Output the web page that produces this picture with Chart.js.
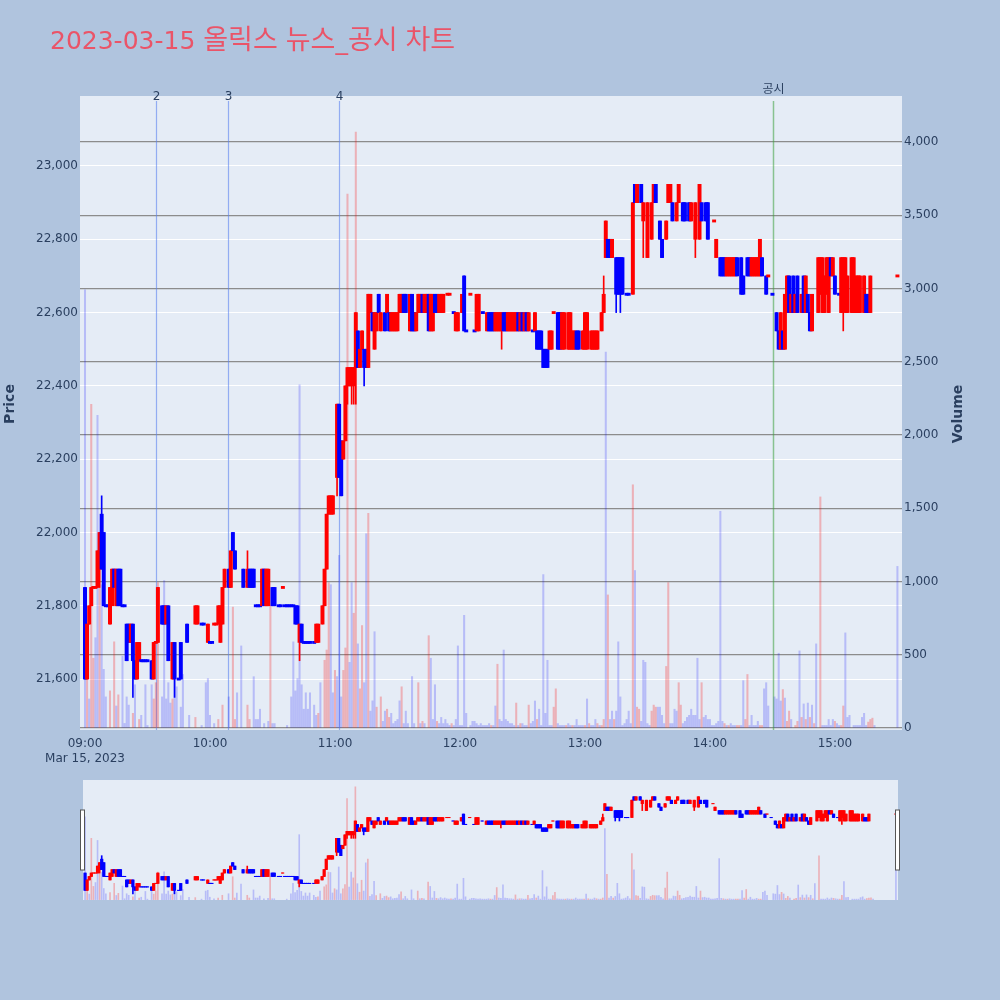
<!DOCTYPE html>
<html>
<head>
<meta charset="utf-8">
<script src="https://cdn.jsdelivr.net/npm/chart.js@4.4.0/dist/chart.umd.min.js"></script>
<style>
  html, body { margin: 0; padding: 0; background: #b0c4de; }
  #wrap { position: relative; width: 1000px; height: 1000px; }
  #main { position: absolute; left: 0; top: 0; }
  #slider { position: absolute; left: 0; top: 775px; }
</style>
</head>
<body>
<div id="wrap">
  <canvas id="main" width="1000" height="770"></canvas>
  <canvas id="slider" width="1000" height="130"></canvas>
</div>
<script>
// minutes after 09:00 (2023-03-15), one candle per traded minute
const times = [
  0,1,2,3,4,5,6,7,8,9,
  10,11,12,13,14,15,16,17,18,19,
  20,21,22,23,24,25,26,27,28,29,
  30,32,33,34,35,37,38,39,40,42,
  43,45,46,49,53,54,56,57,59,60,
  61,62,63,64,65,66,67,69,70,71,
  72,76,78,79,80,81,82,83,84,85,
  86,87,88,90,91,93,94,95,96,97,
  98,99,100,101,102,103,104,105,106,107,
  108,110,111,112,114,115,116,117,118,119,
  121,122,123,124,125,126,127,128,129,130,
  131,132,133,134,135,136,137,138,139,140,
  141,142,144,145,146,147,148,149,150,151,
  152,153,154,156,157,158,159,160,161,162,
  163,164,165,166,167,168,169,170,171,172,
  174,175,177,178,179,181,182,183,185,187,
  188,189,191,193,194,195,196,197,198,199,
  200,201,202,203,204,205,206,207,208,209,
  210,211,212,213,215,216,217,218,219,220,
  221,222,223,224,225,227,228,229,230,232,
  233,234,235,236,237,239,240,241,243,244,
  245,246,248,249,250,251,252,253,255,256,
  257,258,260,261,263,264,265,267,268,270,
  272,273,274,276,277,279,280,281,282,284,
  285,287,288,290,291,293,295,296,298,299,
  302,303,305,306,307,308,309,310,311,312,
  313,315,316,318,319,320,321,322,323,324,
  325,327,328,330,332,333,334,335,336,337,
  338,339,340,341,342,344,345,346,347,348,
  349,352,353,354,355,356,357,358,359,360,
  362,363,364,365,366,368,369,370,371,372,
  374,375,376,377,390
];
const opens = [
  21850,21600,21750,21800,21850,21850,21850,21900,22050,22000,
  21800,21800,21750,21800,21900,21800,21900,21900,21800,21800,
  21750,21750,21700,21750,21650,21600,21650,21650,21650,21650,
  21650,21650,21600,21700,21700,21800,21800,21750,21800,21600,
  21700,21600,21700,21750,21750,21750,21750,21750,21700,21700,
  21700,21750,21750,21750,21700,21750,21850,21900,21850,22000,
  21950,21900,21850,21900,21900,21900,21800,21800,21800,21800,
  21900,21800,21800,21850,21850,21800,21800,21850,21800,21800,
  21800,21800,21800,21800,21800,21700,21750,21700,21700,21700,
  21700,21700,21700,21700,21750,21800,21900,22050,22050,22050,
  22150,22350,22250,22200,22250,22400,22400,22400,22400,22450,
  22550,22450,22500,22500,22500,22450,22600,22600,22500,22550,
  22650,22550,22600,22600,22600,22550,22550,22550,22550,22600,
  22600,22650,22650,22550,22650,22600,22550,22600,22600,22650,
  22600,22600,22650,22550,22550,22650,22650,22600,22600,22600,
  22650,22650,22600,22550,22550,22600,22700,22550,22650,22550,
  22550,22550,22600,22550,22600,22600,22600,22550,22550,22550,
  22550,22600,22600,22550,22550,22550,22550,22550,22600,22550,
  22600,22550,22600,22550,22550,22550,22550,22550,22550,22500,
  22500,22500,22500,22500,22600,22600,22600,22500,22500,22500,
  22500,22500,22500,22550,22550,22500,22500,22500,22500,22500,
  22500,22500,22550,22600,22750,22800,22800,22750,22750,22750,
  22750,22750,22650,22650,22650,22950,22900,22950,22850,22750,
  22800,22900,22950,22850,22800,22800,22900,22900,22900,22850,
  22900,22900,22900,22900,22850,22800,22800,22900,22900,22900,
  22850,22750,22750,22750,22750,22700,22700,22700,22700,22700,
  22750,22750,22700,22750,22750,22700,22700,22700,22700,22700,
  22750,22700,22700,22650,22600,22550,22500,22550,22500,22600,
  22700,22600,22700,22600,22700,22600,22700,22600,22650,22600,
  22550,22600,22650,22600,22600,22650,22600,22750,22700,22700,
  22650,22600,22650,22600,22600,22600,22600,22600,22600,22600,
  22600,22650,22650,22600,22700
];
const highs = [
  21850,21750,21800,21850,21850,21850,21950,22000,22100,22000,
  21800,21800,21850,21900,21900,21900,21900,21900,21800,21800,
  21750,21750,21750,21750,21650,21700,21700,21650,21650,21650,
  21650,21650,21700,21700,21850,21800,21800,21800,21800,21700,
  21700,21600,21700,21750,21800,21800,21750,21750,21750,21700,
  21700,21750,21750,21800,21800,21850,21900,21900,21950,22000,
  21950,21900,21950,21900,21900,21900,21800,21800,21800,21900,
  21900,21900,21900,21850,21850,21800,21800,21850,21800,21800,
  21800,21800,21800,21800,21800,21750,21750,21700,21700,21700,
  21700,21700,21750,21750,21800,21900,22050,22100,22100,22100,
  22350,22350,22250,22250,22400,22450,22450,22450,22450,22600,
  22550,22500,22550,22500,22500,22650,22650,22600,22600,22600,
  22650,22600,22600,22650,22600,22600,22600,22600,22600,22650,
  22650,22650,22650,22650,22650,22600,22600,22650,22650,22650,
  22650,22650,22650,22650,22650,22650,22650,22650,22650,22650,
  22650,22650,22600,22600,22600,22650,22700,22550,22650,22550,
  22650,22650,22600,22600,22600,22600,22600,22600,22600,22600,
  22600,22600,22600,22600,22600,22600,22600,22600,22600,22600,
  22600,22600,22600,22600,22550,22600,22550,22550,22550,22500,
  22500,22500,22550,22550,22600,22600,22600,22600,22600,22600,
  22600,22550,22550,22550,22550,22550,22600,22600,22550,22550,
  22550,22550,22600,22700,22850,22800,22800,22800,22750,22750,
  22750,22750,22650,22650,22900,22950,22950,22950,22900,22900,
  22900,22950,22950,22850,22800,22850,22950,22950,22900,22900,
  22950,22900,22900,22900,22900,22900,22950,22900,22900,22900,
  22850,22800,22750,22750,22750,22750,22750,22750,22750,22750,
  22750,22750,22700,22750,22750,22750,22750,22750,22750,22800,
  22750,22700,22700,22650,22600,22550,22600,22550,22650,22700,
  22700,22650,22700,22650,22700,22650,22700,22700,22650,22600,
  22650,22750,22750,22750,22700,22750,22750,22750,22750,22700,
  22650,22750,22750,22750,22700,22750,22750,22700,22700,22700,
  22700,22650,22650,22700,22700
];
const lows = [
  21600,21600,21750,21800,21850,21850,21850,21850,21900,21800,
  21800,21800,21750,21800,21850,21800,21800,21800,21800,21800,
  21650,21700,21700,21550,21600,21600,21650,21650,21650,21650,
  21650,21600,21600,21700,21700,21750,21750,21750,21650,21600,
  21550,21600,21600,21700,21750,21750,21750,21750,21700,21700,
  21700,21750,21750,21750,21700,21750,21850,21850,21850,21950,
  21900,21850,21850,21850,21850,21850,21800,21800,21800,21800,
  21800,21800,21800,21800,21800,21800,21800,21850,21800,21800,
  21800,21800,21800,21750,21750,21650,21700,21700,21700,21700,
  21700,21700,21700,21700,21750,21800,21900,22050,22050,22050,
  22100,22150,22100,22200,22250,22350,22400,22350,22350,22350,
  22450,22450,22500,22400,22450,22450,22600,22550,22500,22550,
  22600,22550,22550,22600,22550,22550,22550,22550,22550,22600,
  22600,22600,22600,22550,22550,22550,22550,22600,22600,22600,
  22600,22600,22550,22550,22550,22600,22600,22600,22600,22600,
  22650,22650,22600,22550,22550,22600,22550,22550,22650,22550,
  22550,22550,22600,22550,22550,22550,22550,22550,22550,22550,
  22500,22550,22550,22550,22550,22550,22550,22550,22550,22550,
  22550,22550,22550,22550,22550,22550,22500,22500,22500,22450,
  22450,22450,22500,22500,22600,22500,22500,22500,22500,22500,
  22500,22500,22500,22500,22500,22500,22500,22500,22500,22500,
  22500,22500,22550,22600,22750,22750,22750,22750,22600,22650,
  22600,22650,22650,22650,22650,22900,22900,22900,22750,22750,
  22800,22900,22900,22800,22750,22800,22900,22900,22850,22850,
  22900,22850,22850,22850,22850,22750,22800,22850,22850,22800,
  22850,22750,22700,22700,22700,22700,22700,22700,22700,22700,
  22700,22650,22650,22700,22700,22700,22700,22700,22700,22700,
  22700,22650,22700,22650,22550,22500,22500,22500,22500,22600,
  22600,22600,22600,22600,22600,22600,22600,22600,22600,22550,
  22550,22600,22650,22600,22600,22650,22600,22700,22700,22650,
  22650,22600,22550,22600,22600,22600,22600,22600,22600,22600,
  22600,22600,22600,22600,22700
];
const closes = [
  21600,21750,21800,21850,21850,21850,21950,22000,21900,21800,
  21800,21800,21850,21900,21850,21900,21800,21800,21800,21800,
  21650,21700,21750,21650,21600,21700,21700,21650,21650,21650,
  21650,21600,21700,21700,21850,21750,21750,21800,21650,21700,
  21600,21600,21600,21700,21800,21800,21750,21750,21750,21700,
  21700,21750,21750,21800,21800,21850,21900,21850,21950,21950,
  21900,21850,21900,21850,21850,21850,21800,21800,21800,21900,
  21800,21900,21900,21800,21800,21800,21800,21850,21800,21800,
  21800,21800,21800,21750,21750,21750,21700,21700,21700,21700,
  21700,21700,21750,21750,21800,21900,22050,22100,22100,22100,
  22350,22150,22100,22250,22400,22450,22450,22450,22450,22600,
  22450,22500,22550,22450,22450,22650,22650,22550,22600,22600,
  22600,22600,22550,22650,22550,22600,22600,22600,22600,22650,
  22650,22600,22600,22650,22550,22550,22600,22650,22650,22600,
  22650,22650,22550,22650,22650,22600,22600,22650,22650,22650,
  22650,22650,22600,22600,22600,22650,22550,22550,22650,22550,
  22650,22650,22600,22600,22550,22550,22550,22600,22600,22600,
  22600,22550,22550,22600,22600,22600,22600,22600,22550,22600,
  22550,22600,22550,22600,22550,22600,22500,22500,22500,22450,
  22450,22450,22550,22550,22600,22500,22500,22600,22600,22600,
  22600,22550,22550,22500,22500,22550,22600,22600,22550,22550,
  22550,22550,22600,22650,22850,22750,22750,22800,22650,22650,
  22650,22650,22650,22650,22900,22900,22950,22900,22900,22900,
  22900,22950,22900,22800,22750,22850,22950,22950,22850,22900,
  22950,22850,22850,22850,22900,22900,22950,22850,22850,22800,
  22850,22800,22700,22700,22700,22750,22750,22750,22750,22750,
  22700,22650,22650,22700,22700,22750,22750,22750,22750,22800,
  22700,22650,22700,22650,22550,22500,22600,22500,22650,22700,
  22600,22650,22600,22650,22600,22650,22600,22700,22600,22550,
  22650,22750,22750,22750,22700,22750,22750,22700,22750,22650,
  22650,22750,22750,22750,22700,22750,22750,22700,22700,22700,
  22700,22600,22600,22700,22700
];

// volume bars (minute, shares, 1 = red bar / 0 = blue bar)
const volTimes = [
  0,1,2,3,4,5,6,7,8,9,
  10,12,14,15,16,18,19,20,21,23,
  24,26,27,29,30,32,33,34,35,37,
  38,39,40,41,42,43,44,46,47,50,
  53,56,58,59,60,62,64,66,69,71,
  72,73,75,78,79,81,82,83,84,86,
  88,89,90,91,97,99,100,101,102,103,
  104,105,106,107,108,110,111,112,113,115,
  116,117,118,119,120,121,122,123,124,125,
  126,127,128,129,130,131,132,133,134,135,
  136,137,138,139,140,142,143,144,145,146,
  147,148,149,150,151,152,153,154,155,157,
  158,160,161,162,163,165,166,167,168,169,
  170,171,172,173,174,175,176,177,178,179,
  180,181,182,183,185,186,187,188,189,190,
  191,192,193,194,195,196,197,198,199,200,
  201,202,203,204,205,206,207,208,209,210,
  211,212,213,214,215,216,217,218,219,220,
  221,222,223,224,225,226,227,228,229,230,
  231,232,233,234,235,236,237,238,239,240,
  241,242,243,244,245,246,247,248,249,250,
  251,252,253,254,255,256,257,258,259,260,
  261,262,263,264,265,266,267,268,269,270,
  271,272,273,274,275,276,277,278,279,280,
  281,282,283,284,285,286,287,288,289,290,
  291,292,293,294,295,296,297,298,299,300,
  301,302,303,304,305,306,307,308,309,310,
  311,312,313,314,315,316,317,318,319,320,
  321,322,323,324,325,326,327,328,331,332,
  333,334,335,336,337,338,339,341,342,343,
  344,345,346,347,348,349,350,351,353,354,
  355,356,357,358,359,360,361,362,363,364,
  365,366,367,369,370,371,372,373,374,375,
  376,377,378,379,390
];
const volValues = [
  2990,337,198,2210,476,616,2134,1117,978,400,
  212,253,588,150,226,490,31,212,156,100,
  295,58,86,295,17,295,198,309,992,212,
  1006,198,309,170,198,379,281,142,365,86,
  72,17,309,337,86,30,58,156,212,825,
  58,240,560,156,58,350,58,58,128,30,
  45,838,30,30,17,212,588,253,337,2342,
  295,128,240,128,240,156,86,100,309,462,
  532,992,978,240,393,351,1178,212,393,546,
  3645,448,992,783,4068,574,267,699,309,1326,
  1465,115,185,657,142,212,45,115,128,72,
  100,30,45,58,185,281,30,115,30,351,
  30,309,30,45,30,630,476,58,295,45,
  30,72,30,58,30,17,30,17,58,560,
  17,17,769,100,17,45,45,30,17,30,
  17,17,17,30,17,17,150,435,58,45,
  532,58,45,30,30,17,170,17,30,30,
  17,17,156,30,45,184,58,128,17,1047,
  100,462,17,17,142,267,30,17,17,17,
  17,30,17,17,17,58,17,17,17,17,
  198,30,17,17,58,30,17,17,58,2566,
  908,58,115,58,115,588,212,17,30,58,
  115,30,1660,1075,142,128,45,462,448,30,
  17,115,156,142,142,142,86,30,420,992,
  30,30,128,115,309,156,30,45,72,86,
  128,86,86,476,58,309,72,86,58,58,
  17,17,30,45,1479,45,30,17,17,30,
  17,17,17,17,17,323,58,365,17,86,
  17,17,45,17,17,267,309,150,212,198,
  510,184,262,204,45,115,58,17,45,526,
  72,164,58,170,72,156,30,574,1577,17,
  17,17,58,17,58,45,30,17,17,150,
  649,72,86,17,17,17,17,72,100,17,
  40,58,67,17,1103
];
const volUp = [
  0,1,0,1,1,0,0,1,0,0,
  0,1,1,0,1,0,0,0,0,1,
  0,1,0,0,0,0,1,1,1,0,
  0,0,0,0,1,0,0,0,0,0,
  1,0,0,0,0,0,1,1,0,1,
  1,0,0,1,1,0,0,0,0,0,
  0,1,0,0,0,0,0,0,0,0,
  0,0,0,0,0,0,0,1,0,1,
  1,1,0,0,1,0,0,0,1,1,
  1,0,0,1,1,0,1,1,0,0,
  1,0,0,0,1,1,0,0,1,1,
  0,0,0,0,0,1,0,0,0,0,
  0,1,0,1,0,1,0,0,0,1,
  0,0,0,0,0,0,1,0,0,0,
  0,0,0,0,0,0,0,0,0,0,
  0,0,0,0,1,0,0,1,0,0,
  0,0,0,0,0,0,1,0,1,0,
  0,0,1,0,0,0,1,0,0,0,
  0,0,0,0,1,1,0,0,0,0,
  1,0,0,1,0,0,0,0,0,1,
  0,1,0,0,0,1,0,1,1,0,
  1,0,0,1,0,0,0,0,0,0,
  0,0,1,0,1,1,0,0,0,0,
  0,1,1,1,0,0,0,0,1,1,
  0,0,0,0,1,1,0,0,0,0,
  0,0,0,0,0,1,0,0,0,0,
  0,0,0,0,0,0,1,0,1,0,
  0,0,1,1,0,0,1,1,0,0,
  0,0,0,1,1,0,0,0,0,0,
  0,0,1,0,1,1,0,1,1,0,
  1,0,1,0,1,0,1,0,1,0,
  0,0,0,0,0,1,0,0,1,1,
  0,0,0,0,0,0,0,0,0,0,
  1,1,1,0,0
];

// axes
const hourTicks = [0, 60, 120, 180, 240, 300, 360];
const hourLabels = ['09:00', '10:00', '11:00', '12:00', '13:00', '14:00', '15:00'];
const dateLabel = 'Mar 15, 2023';
const priceTicks = [21600, 21800, 22000, 22200, 22400, 22600, 22800, 23000];
const volumeTicks = [0, 500, 1000, 1500, 2000, 2500, 3000, 3500, 4000];

// marked events (minutes after 09:00)
const eventTimes = [34.1, 68.6, 121.9];
const eventLabels = ['2', '3', '4'];
const noticeTimes = [330.2];
const noticeLabels = ['공시'];

const chartTitle = '2023-03-15 올릭스 뉴스_공시 차트';

if (![opens, highs, lows, closes].every(a => a.length === times.length)) throw new Error('candle arrays differ ' + [times.length, opens.length, highs.length, lows.length, closes.length]);
if (volValues.length !== volTimes.length || volUp.length !== volTimes.length) throw new Error('volume arrays differ ' + [volTimes.length, volValues.length, volUp.length]);

const FONT = "'DejaVu Sans', 'Noto Sans CJK KR', sans-serif";
const INK = '#2a3f5f';
Chart.defaults.font.family = FONT;

// plotly-like colouring: doji takes direction from previous close
const rising = [];
times.forEach((t, i) => {
  if (closes[i] > opens[i]) rising.push(true);
  else if (closes[i] < opens[i]) rising.push(false);
  else if (i === 0) rising.push(false);
  else if (closes[i] > closes[i - 1]) rising.push(true);
  else if (closes[i] < closes[i - 1]) rising.push(false);
  else rising.push(rising[i - 1]);
});
const candleColors = rising.map(r => r ? '#ff0000' : '#0000ff');
const bodyData = times.map((t, i) => {
  const lo = Math.min(opens[i], closes[i]), hi = Math.max(opens[i], closes[i]);
  return { x: t, y: lo === hi ? [lo - 3, hi + 3] : [lo, hi] };
});
const wickData = times.map((t, i) => ({ x: t, y: [lows[i], highs[i]] }));
const volData = volTimes.map((t, i) => ({ x: t, y: volValues[i] }));
const volColors = volUp.map(u => u ? 'rgba(255,0,0,0.25)' : 'rgba(0,0,255,0.2)');

const priceMin = 21461, priceMax = 23191, volMin = -14, volMax = 4314;

function datasets(bodyW, wickW, volW) {
  return [
    { data: bodyData, backgroundColor: candleColors, barThickness: bodyW, grouped: false, order: 1, yAxisID: 'y' },
    { data: wickData, backgroundColor: candleColors, barThickness: wickW, grouped: false, order: 2, yAxisID: 'y' },
    { data: volData, backgroundColor: volColors, barThickness: volW, grouped: false, order: 3, yAxisID: 'vol' }
  ];
}

const plotBg = {
  id: 'plotBg',
  beforeDraw(chart) {
    const { ctx, chartArea: a } = chart;
    ctx.save();
    ctx.fillStyle = '#e5ecf6';
    ctx.fillRect(a.left, a.top, a.right - a.left, a.bottom - a.top);
    ctx.restore();
  }
};

const markers = {
  id: 'markers',
  beforeDatasetsDraw(chart) {
    const { ctx, chartArea: a, scales } = chart;
    ctx.save();
    const draw = (t, label, color, width, labelY) => {
      const x = Math.round(scales.x.getPixelForValue(t)) + 0.5;
      ctx.strokeStyle = color;
      ctx.lineWidth = width;
      ctx.beginPath();
      ctx.moveTo(x, a.top + 5);
      ctx.lineTo(x, a.bottom);
      ctx.stroke();
      ctx.fillStyle = INK;
      ctx.font = '12px ' + FONT;
      ctx.textAlign = 'center';
      ctx.textBaseline = 'middle';
      ctx.fillText(label, x, labelY);
    };
    eventTimes.forEach((t, i) => draw(t, eventLabels[i], 'rgba(90,130,240,0.6)', 1.2, a.top + 1));
    noticeTimes.forEach((t, i) => draw(t, noticeLabels[i], 'rgba(60,160,60,0.55)', 1.5, a.top - 6));
    ctx.restore();
  },
  afterDraw(chart) {
    const { ctx } = chart;
    ctx.save();
    // title: latin in DejaVu, hangul runs in the CJK font
    ctx.fillStyle = '#ea5468';
    ctx.textBaseline = 'alphabetic';
    ctx.textAlign = 'left';
    let x = 50;
    chartTitle.match(/[\uAC00-\uD7A3]+|[^\uAC00-\uD7A3]+/g).forEach(run => {
      const hangul = /[\uAC00-\uD7A3]/.test(run);
      ctx.font = hangul ? "27px 'Noto Sans CJK KR'" : "25px 'DejaVu Sans'";
      ctx.fillText(run, x, 49);
      x += ctx.measureText(run).width;
    });
    // axis titles
    ctx.fillStyle = INK;
    ctx.font = 'bold 14px ' + FONT;
    ctx.textAlign = 'center';
    ctx.textBaseline = 'middle';
    [['Price', 10, 404], ['Volume', 958, 414]].forEach(([txt, px, py]) => {
      ctx.save();
      ctx.translate(px, py);
      ctx.rotate(-Math.PI / 2);
      ctx.fillText(txt, 0, 0);
      ctx.restore();
    });
    ctx.restore();
  }
};

const tickFont = { size: 12, family: FONT, lineHeight: 1.25 };

new Chart(document.getElementById('main'), {
  type: 'bar',
  data: { datasets: datasets(3.3, 1, 1.4) },
  options: {
    responsive: false,
    animation: false,
    events: [],
    layout: { padding: { top: 96, left: 0, right: 0, bottom: 0 } },
    plugins: { legend: { display: false }, tooltip: { enabled: false }, title: { display: false } },
    scales: {
      x: {
        type: 'linear', min: -2.4, max: 392.2, offset: false,
        grid: { display: false, drawTicks: false, offset: false }, border: { display: false },
        ticks: {
          color: INK, font: tickFont, padding: 6, maxRotation: 0, autoSkip: false,
          callback: (v, i) => i === 0 ? [hourLabels[0], dateLabel] : hourLabels[i]
        },
        afterBuildTicks: s => { s.ticks = hourTicks.map(v => ({ value: v })); },
        afterFit: s => { s.height = 40; }
      },
      y: {
        position: 'left', min: priceMin, max: priceMax,
        grid: { color: '#ffffff', lineWidth: 1, drawTicks: false }, border: { display: false },
        ticks: { color: INK, font: tickFont, padding: 2, callback: v => v.toLocaleString('en-US') },
        afterBuildTicks: s => { s.ticks = priceTicks.map(v => ({ value: v })); },
        afterFit: s => { s.width = 80; }
      },
      vol: {
        position: 'right', min: volMin, max: volMax,
        grid: { color: '#8c8c8c', lineWidth: 1.2, drawTicks: false }, border: { display: false },
        ticks: { color: INK, font: tickFont, padding: 2, callback: v => v.toLocaleString('en-US') },
        afterBuildTicks: s => { s.ticks = volumeTicks.map(v => ({ value: v })); },
        afterFit: s => { s.width = 98; }
      }
    }
  },
  plugins: [plotBg, markers]
});

const handles = {
  id: 'handles',
  afterDraw(chart) {
    const { ctx, chartArea: a } = chart;
    ctx.save();
    ctx.fillStyle = '#ffffff';
    ctx.strokeStyle = '#555555';
    ctx.lineWidth = 1;
    [a.left, a.right].forEach(x => {
      ctx.fillRect(x - 2.5, 35, 4, 60);
      ctx.strokeRect(x - 2.5, 35, 4, 60);
    });
    ctx.restore();
  }
};

new Chart(document.getElementById('slider'), {
  type: 'bar',
  data: { datasets: datasets(2.6, 1, 1) },
  options: {
    responsive: false,
    animation: false,
    events: [],
    layout: { padding: { top: 5, bottom: 5, left: 83, right: 102 } },
    plugins: { legend: { display: false }, tooltip: { enabled: false } },
    scales: {
      x: { type: 'linear', min: -1, max: 391, display: false, offset: false, grid: { offset: false } },
      y: { min: priceMin, max: priceMax, display: false },
      vol: { position: 'right', min: volMin, max: volMax, display: false }
    }
  },
  plugins: [plotBg, handles]
});
</script>
</body>
</html>
